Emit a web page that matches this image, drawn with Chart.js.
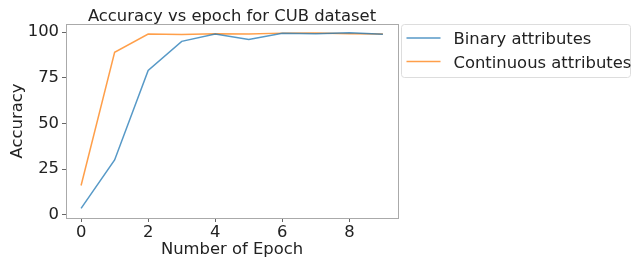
<!DOCTYPE html>
<html>
<head>
<meta charset="utf-8">
<script src="https://cdn.jsdelivr.net/npm/chart.js@4"></script>
<style>
  body { margin: 0; background: #fff; }
</style>
</head>
<body>
<canvas id="myChart" width="631" height="260"></canvas>
<script>
const epochs = [0, 1, 2, 3, 4, 5, 6, 7, 8, 9];
const binaryAcc = [3.5, 30, 79, 95, 99, 96, 99.4, 99.2, 99.7, 98.9];
const continuousAcc = [16, 89, 99, 98.8, 99.2, 99, 99.5, 99.6, 99.2, 99];
const seriesNames = ['Binary attributes', 'Continuous attributes'];
const xTicks = [0, 2, 4, 6, 8];
const yTicks = [0, 25, 50, 75, 100];

const FONT = 'DejaVu Sans';
const FS = 16.4;
const BLUE = 'rgba(31,119,180,0.75)';
const ORANGE = 'rgba(255,127,14,0.75)';

const toPoints = vals => vals.map((v, i) => ({ x: epochs[i], y: v }));

// frame, title and boxed legend the way matplotlib draws them
const mplExtras = {
  id: 'mplExtras',
  afterDraw(chart) {
    const { ctx, chartArea: a } = chart;
    ctx.save();
    ctx.strokeStyle = '#aaa';
    ctx.lineWidth = 1;
    ctx.strokeRect(Math.round(a.left) + 0.5, Math.round(a.top) + 0.5,
      Math.round(a.right - a.left), Math.round(a.bottom - a.top));

    ctx.fillStyle = '#222';
    ctx.font = FS + 'px "' + FONT + '"';
    ctx.textAlign = 'center';
    ctx.textBaseline = 'alphabetic';
    ctx.fillText('Accuracy vs epoch for CUB dataset', (a.left + a.right) / 2, a.top - 3);

    // legend box
    const lx = a.right + 3.5, ly = a.top + 0.5, lw = 229, lh = 53, r = 3;
    ctx.beginPath();
    ctx.roundRect(lx, ly, lw, lh, r);
    ctx.fillStyle = 'rgba(255,255,255,0.8)';
    ctx.fill();
    ctx.strokeStyle = '#ddd';
    ctx.stroke();

    chart.data.datasets.forEach((ds, i) => {
      const cy = ly + 13.5 + i * 23.6;
      ctx.beginPath();
      ctx.strokeStyle = ds.borderColor;
      ctx.lineWidth = 1.5;
      ctx.moveTo(lx + 5, cy);
      ctx.lineTo(lx + 39, cy);
      ctx.stroke();
      ctx.fillStyle = '#222';
      ctx.textAlign = 'left';
      ctx.fillText(ds.label, lx + 52, cy + 6);
    });
    ctx.restore();
  }
};

const ctx = document.getElementById('myChart').getContext('2d');
let myChart = new Chart(ctx, {
  type: 'line',
  data: {
    datasets: [
      { label: seriesNames[0], data: toPoints(binaryAcc), borderColor: BLUE },
      { label: seriesNames[1], data: toPoints(continuousAcc), borderColor: ORANGE }
    ]
  },
  options: {
    responsive: false,
    animation: false,
    layout: { padding: { top: 24, right: 233, left: 0, bottom: 0 } },
    elements: {
      point: { radius: 0 },
      line: { borderWidth: 1.5, tension: 0, fill: false }
    },
    plugins: { legend: { display: false }, title: { display: false }, tooltip: { enabled: false } },
    scales: {
      x: {
        type: 'linear',
        min: -0.45,
        max: 9.45,
        afterBuildTicks: s => { s.ticks = xTicks.map(v => ({ value: v })); },
        afterFit: s => { s.height = 42; },
        grid: { drawOnChartArea: false, tickLength: 4, color: '#666' },
        border: { display: false },
        ticks: { color: '#222', font: { family: FONT, size: FS }, padding: 1, maxRotation: 0 },
        title: { display: true, text: 'Number of Epoch', color: '#222',
                 font: { family: FONT, size: FS }, padding: { top: 0, bottom: 0.5 } }
      },
      y: {
        min: -1.8,
        max: 104.5,
        afterBuildTicks: s => { s.ticks = yTicks.map(v => ({ value: v })); },
        afterFit: s => { s.width = 66; },
        grid: { drawOnChartArea: false, tickLength: 4, color: '#666' },
        border: { display: false },
        ticks: { color: '#222', font: { family: FONT, size: FS }, padding: 3 },
        title: { display: true, text: 'Accuracy', color: '#222',
                 font: { family: FONT, size: FS }, padding: { top: 8, bottom: 0 } }
      }
    }
  },
  plugins: [mplExtras]
});
</script>
</body>
</html>
